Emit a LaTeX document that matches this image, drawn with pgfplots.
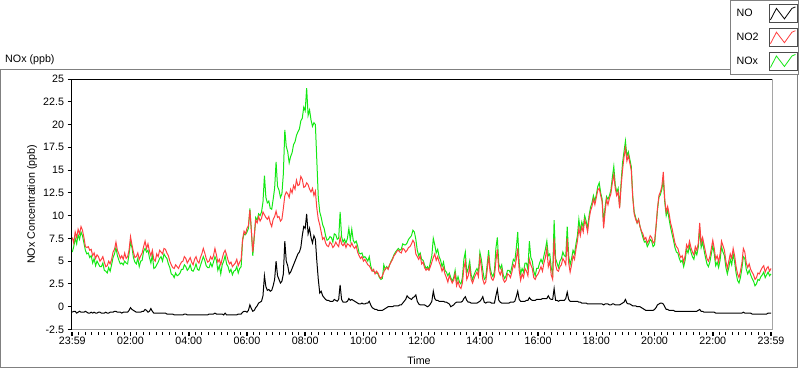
\documentclass[border=0pt]{standalone}
\usepackage{fontspec}
\setmainfont{Liberation Sans}
\usepackage{pgfplots}
\usepackage{pgfplotstable}
\pgfplotsset{compat=1.18}
\definecolor{nored}{RGB}{255,64,64}
\definecolor{nogreen}{RGB}{20,232,20}
\definecolor{framegray}{RGB}{128,128,128}
\definecolor{axgray}{RGB}{165,165,165}

\pgfplotstableread{
h NO NO2 NOx
0.0 -0.6 7.6 6.0
0.05 -0.5 7.0 6.6
0.1 -0.5 8.2 7.5
0.15 -0.7 7.6 6.9
0.2 -0.6 8.5 7.9
0.25 -0.5 8.0 7.4
0.3 -0.6 8.8 8.2
0.35 -0.6 8.4 7.8
0.4 -0.6 7.6 7.0
0.45 -0.5 6.6 6.2
0.5 -0.6 6.5 5.8
0.55 -0.7 6.6 5.9
0.6 -0.7 6.2 5.4
0.65 -0.6 6.3 5.6
0.7 -0.7 5.6 4.8
0.75 -0.6 5.9 5.3
0.8 -0.7 5.3 4.5
0.85 -0.7 5.7 5.0
0.9 -0.6 5.5 4.7
0.95 -0.6 5.0 4.4
1.0 -0.7 5.2 4.4
1.05 -0.7 5.5 4.8
1.1 -0.7 4.9 4.0
1.15 -0.6 4.4 3.9
1.2 -0.7 4.5 3.7
1.25 -0.7 5.0 4.3
1.3 -0.6 4.7 3.9
1.35 -0.6 5.2 4.6
1.4 -0.6 6.0 5.4
1.45 -0.5 6.3 5.8
1.5 -0.5 7.1 6.5
1.55 -0.6 6.2 5.6
1.6 -0.6 5.8 5.1
1.65 -0.6 5.3 4.7
1.7 -0.7 5.6 4.8
1.75 -0.6 5.2 4.6
1.8 -0.6 5.9 5.0
1.85 -0.6 5.3 4.8
1.9 -0.6 5.5 4.7
1.95 -0.4 6.2 5.8
2.0 -0.1 7.7 7.1
2.05 -0.3 6.8 6.5
2.1 -0.4 6.0 5.4
2.15 -0.5 5.4 4.9
2.2 -0.6 5.5 4.7
2.25 -0.6 5.9 5.3
2.3 -0.6 5.2 4.4
2.35 -0.6 5.6 5.0
2.4 -0.5 5.9 5.1
2.45 -0.5 6.6 6.1
2.5 -0.3 7.2 6.4
2.55 -0.4 6.4 6.0
2.6 -0.6 6.9 6.2
2.65 -0.5 6.1 5.4
2.7 -0.2 5.6 4.8
2.75 -0.5 6.2 5.7
2.8 -0.7 5.2 4.2
2.85 -0.7 5.0 4.3
2.9 -0.7 5.8 4.6
2.95 -0.7 5.5 4.9
3.0 -0.7 6.2 5.3
3.05 -0.7 6.0 5.5
3.1 -0.7 5.8 5.0
3.15 -0.7 6.4 5.8
3.2 -0.7 6.3 5.5
3.25 -0.8 5.9 5.3
3.3 -0.8 5.6 4.7
3.35 -0.8 5.0 4.3
3.4 -0.8 4.6 3.6
3.45 -0.8 4.3 3.5
3.5 -0.9 4.2 3.2
3.55 -0.9 4.6 3.7
3.6 -0.9 4.4 3.4
3.65 -0.9 4.2 3.5
3.7 -0.9 4.6 3.7
3.75 -0.9 4.9 4.1
3.8 -0.9 5.0 4.1
3.85 -0.8 5.5 4.6
3.9 -0.8 5.3 4.4
3.95 -0.9 4.8 4.0
4.0 -0.9 5.1 4.2
4.05 -0.9 5.4 4.6
4.1 -0.9 4.9 4.0
4.15 -0.9 4.6 3.9
4.2 -0.9 5.2 4.2
4.25 -0.9 5.5 4.7
4.3 -0.9 5.0 4.1
4.35 -0.9 4.8 4.0
4.4 -0.9 5.4 4.5
4.45 -0.9 5.8 5.0
4.5 -0.9 6.4 5.5
4.55 -0.9 5.9 5.1
4.6 -0.9 5.3 4.5
4.65 -0.9 4.9 4.3
4.7 -0.8 5.0 4.3
4.75 -0.8 5.5 4.8
4.8 -0.8 5.2 4.4
4.85 -0.8 5.6 4.9
4.9 -0.7 6.4 5.5
4.95 -0.8 5.7 5.1
5.0 -0.8 4.9 4.0
5.05 -0.8 5.2 4.5
5.1 -0.8 4.6 3.6
5.15 -0.8 5.3 4.6
5.2 -0.9 5.9 5.0
5.25 -0.7 6.2 5.6
5.3 -0.9 5.7 4.7
5.35 -0.9 5.1 4.4
5.4 -0.9 4.7 3.8
5.45 -0.9 4.9 4.1
5.5 -0.9 4.4 3.5
5.55 -0.9 4.6 3.9
5.6 -0.9 4.8 4.0
5.65 -0.9 5.2 4.4
5.7 -0.8 4.5 3.7
5.75 -0.8 4.9 4.2
5.8 -0.8 5.2 4.4
5.85 -0.6 7.4 7.3
5.9 -0.5 8.3 8.0
5.95 -0.5 8.0 7.9
6.0 -0.6 8.6 8.2
6.05 -0.4 8.9 8.6
6.1 0.2 10.6 10.8
6.15 -0.2 8.4 8.4
6.2 -0.5 6.0 5.6
6.25 -0.4 7.8 7.6
6.3 -0.1 9.5 9.8
6.35 0.1 9.2 9.5
6.4 0.4 9.9 10.2
6.45 0.5 9.4 10.0
6.5 0.6 9.7 10.4
6.55 1.2 10.4 11.5
6.6 3.4 10.1 14.4
6.65 2.2 9.8 12.0
6.7 1.8 9.6 11.4
6.75 1.9 9.9 11.6
6.8 1.7 9.2 10.8
6.85 1.8 8.8 10.7
6.9 2.3 9.6 11.8
6.95 3.0 9.9 13.0
7.0 5.0 10.5 15.9
7.05 3.4 9.8 13.2
7.1 3.0 9.9 12.8
7.15 2.6 9.4 12.0
7.2 2.8 9.6 12.4
7.25 3.6 10.8 14.6
7.3 7.2 12.2 19.4
7.35 5.0 12.6 17.6
7.4 4.5 12.4 17.0
7.45 3.6 12.0 15.8
7.5 3.8 12.9 16.5
7.55 4.2 12.5 16.9
7.6 4.6 13.3 17.8
7.65 5.0 12.9 18.1
7.7 5.4 13.9 18.8
7.75 5.8 13.3 19.2
7.8 6.0 13.4 19.5
7.85 6.5 14.3 20.4
7.9 7.8 14.0 20.7
7.95 8.8 13.1 21.9
8.0 8.6 13.2 21.5
8.05 10.2 13.6 24.0
8.1 8.0 13.4 21.0
8.15 8.6 12.9 21.6
8.2 7.6 12.6 20.5
8.25 7.0 13.0 19.8
8.3 7.8 12.2 20.2
8.35 7.4 12.7 20.0
8.4 5.0 10.8 16.0
8.45 3.0 9.6 12.0
8.5 1.5 9.0 10.4
8.55 1.7 8.2 9.8
8.6 1.2 7.4 9.0
8.65 1.0 7.6 8.6
8.7 0.8 7.0 7.8
8.75 0.7 6.7 7.3
8.8 0.7 6.6 7.4
8.85 0.6 7.1 7.7
8.9 0.6 6.9 7.6
8.95 0.6 6.5 7.1
9.0 0.8 6.7 8.0
9.05 0.7 7.1 7.9
9.1 0.6 6.8 7.4
9.15 0.8 6.6 7.5
9.2 2.4 7.6 10.4
9.25 0.8 6.9 7.7
9.3 0.5 6.7 7.1
9.35 0.5 7.0 7.4
9.4 0.5 6.5 7.0
9.45 0.6 6.9 7.5
9.5 0.9 6.8 8.6
9.55 0.7 6.6 7.3
9.6 0.8 7.0 8.5
9.65 0.7 6.6 7.3
9.7 0.6 6.4 7.0
9.75 0.5 6.7 7.2
9.8 0.4 6.0 6.7
9.85 0.3 5.6 5.9
9.9 0.3 5.3 5.8
9.95 0.4 5.5 5.9
10.0 0.3 5.0 5.4
10.05 0.3 5.2 5.5
10.1 0.4 4.9 5.3
10.15 0.4 4.6 5.0
10.2 0.6 4.5 5.5
10.25 0.2 4.2 4.5
10.3 -0.1 3.9 4.0
10.35 -0.2 4.1 3.9
10.4 -0.3 3.6 3.8
10.45 -0.3 3.9 3.7
10.5 -0.4 3.7 3.6
10.55 -0.4 3.3 3.2
10.6 -0.4 3.1 3.0
10.65 -0.4 3.4 3.1
10.7 -0.3 3.8 4.6
10.75 -0.2 4.2 4.1
10.8 -0.1 4.3 4.4
10.85 0.0 4.1 4.2
10.9 0.0 4.6 4.6
10.95 0.0 4.9 5.0
11.0 0.0 5.2 5.3
11.05 0.1 5.6 5.7
11.1 0.1 5.8 6.0
11.15 0.1 6.1 6.2
11.2 0.1 6.2 6.4
11.25 0.2 6.0 6.2
11.3 0.2 5.9 6.3
11.35 0.4 6.4 6.9
11.4 0.6 6.3 6.8
11.45 0.8 6.0 6.8
11.5 1.2 6.2 7.0
11.55 1.0 6.5 7.4
11.6 0.9 6.6 7.6
11.65 0.8 6.9 7.8
11.7 1.0 7.3 8.4
11.75 1.1 7.0 8.2
11.8 1.3 5.8 7.4
11.85 0.6 5.5 6.2
11.9 0.3 5.2 5.6
11.95 0.2 5.6 5.9
12.0 0.2 4.7 5.2
12.05 0.2 4.9 5.1
12.1 0.2 4.3 4.6
12.15 0.1 4.0 4.2
12.2 0.0 4.2 4.4
12.25 0.1 4.0 4.1
12.3 0.3 4.4 4.9
12.35 0.6 4.9 5.6
12.4 1.7 5.4 7.5
12.45 0.9 5.8 6.8
12.5 0.7 5.1 5.9
12.55 0.7 5.5 6.3
12.6 0.6 4.9 5.5
12.65 0.6 4.5 5.1
12.7 0.6 3.9 4.4
12.75 0.6 4.3 4.9
12.8 0.5 3.6 4.0
12.85 0.5 3.2 3.8
12.9 0.4 2.7 3.4
12.95 0.3 3.4 3.7
13.0 0.0 3.0 3.2
13.05 0.1 2.6 2.8
13.1 0.2 2.9 3.2
13.15 0.4 3.6 4.0
13.2 0.5 2.3 2.8
13.25 0.5 2.8 3.3
13.3 0.5 2.2 2.7
13.35 0.5 2.0 2.5
13.4 0.6 2.6 3.2
13.45 0.9 4.2 5.2
13.5 1.1 5.0 6.0
13.55 0.7 3.0 3.7
13.6 0.5 3.4 4.2
13.65 0.5 4.4 5.0
13.7 0.4 3.0 3.5
13.75 0.4 2.6 3.0
13.8 0.4 3.1 3.5
13.85 0.4 3.5 3.9
13.9 0.4 3.8 4.2
13.95 0.5 3.3 3.8
14.0 0.6 5.4 6.0
14.05 0.8 4.4 5.2
14.1 1.1 3.0 4.0
14.15 0.5 2.5 3.0
14.2 0.4 2.7 3.2
14.25 0.5 4.0 4.6
14.3 0.5 5.6 6.2
14.35 0.5 3.8 4.3
14.4 0.4 3.1 3.6
14.45 0.4 2.9 3.3
14.5 0.4 3.3 3.9
14.55 1.2 5.0 6.4
14.6 1.9 6.3 7.6
14.65 0.7 3.9 4.7
14.7 0.5 3.5 4.2
14.75 0.4 4.1 4.6
14.8 0.4 3.0 3.5
14.85 0.4 2.7 3.1
14.9 0.4 2.9 3.4
14.95 0.4 3.6 4.0
15.0 0.4 3.5 4.0
15.05 0.5 3.2 3.7
15.1 0.5 3.8 4.4
15.15 0.5 4.6 5.2
15.2 0.6 4.3 5.0
15.25 1.1 5.2 6.4
15.3 1.7 6.4 8.2
15.35 0.8 4.0 4.8
15.4 0.6 2.9 3.6
15.45 0.6 3.6 4.2
15.5 0.6 3.2 3.8
15.55 0.6 4.2 4.8
15.6 0.7 3.9 4.8
15.65 0.7 3.4 4.1
15.7 1.0 5.2 7.2
15.75 0.8 4.6 5.4
15.8 0.7 4.2 5.0
15.85 0.7 3.2 3.9
15.9 0.7 3.0 3.4
15.95 0.8 3.4 4.2
16.0 0.8 3.6 4.2
16.05 0.8 4.0 4.8
16.1 0.8 4.4 5.2
16.15 0.9 3.9 4.8
16.2 0.9 4.8 5.6
16.25 0.9 5.4 6.3
16.3 0.9 6.4 7.2
16.35 1.2 4.4 5.6
16.4 0.9 5.0 5.8
16.45 0.8 3.5 4.3
16.5 0.8 3.0 3.6
16.55 2.0 7.5 9.5
16.6 0.7 4.6 5.3
16.65 0.7 4.0 4.8
16.7 0.6 3.9 4.3
16.75 0.7 4.4 5.0
16.8 0.7 4.6 5.3
16.85 0.7 5.3 6.0
16.9 0.7 5.0 5.6
16.95 0.9 4.6 5.5
17.0 1.6 7.5 8.8
17.05 0.8 4.8 5.6
17.1 0.6 3.8 4.6
17.15 0.6 4.6 5.3
17.2 0.6 5.6 6.2
17.25 0.6 5.2 5.8
17.3 0.6 6.3 6.9
17.35 0.6 7.2 7.8
17.4 0.5 8.6 9.6
17.45 0.5 7.8 8.3
17.5 0.4 8.8 9.3
17.55 0.4 8.2 8.7
17.6 0.4 9.5 10.0
17.65 0.4 9.0 9.4
17.7 0.3 8.2 8.6
17.75 0.3 9.6 10.0
17.8 0.3 10.5 10.9
17.85 0.3 11.0 11.4
17.9 0.3 11.8 12.2
17.95 0.3 11.2 11.6
18.0 0.3 12.0 12.3
18.05 0.3 12.8 13.2
18.1 0.3 13.0 13.6
18.15 0.3 12.2 12.5
18.2 0.3 11.5 11.8
18.25 0.2 8.6 9.2
18.3 0.3 10.4 10.9
18.35 0.3 11.8 12.1
18.4 0.3 11.2 11.8
18.45 0.2 11.9 12.2
18.5 0.2 12.4 12.8
18.55 0.3 13.6 14.2
18.6 0.3 14.5 15.4
18.65 0.2 13.0 13.4
18.7 0.2 12.2 12.6
18.75 0.2 12.6 13.0
18.8 0.2 10.8 11.0
18.85 0.3 13.2 13.6
18.9 0.4 15.0 15.8
18.95 0.5 16.4 17.0
19.0 0.8 17.4 18.2
19.05 0.4 16.0 16.5
19.1 0.3 16.6 17.0
19.15 0.3 15.8 16.2
19.2 0.2 15.0 15.4
19.25 0.1 12.0 12.2
19.3 0.1 10.2 10.4
19.35 0.1 9.6 9.8
19.4 0.0 9.2 9.2
19.45 0.0 9.6 9.6
19.5 0.0 8.8 8.8
19.55 -0.1 8.3 8.2
19.6 -0.2 8.0 7.6
19.65 -0.3 7.4 7.1
19.7 -0.4 7.6 7.2
19.75 -0.4 7.0 6.6
19.8 -0.4 7.3 6.9
19.85 -0.4 7.8 7.4
19.9 -0.4 7.6 7.2
19.95 -0.4 7.0 6.6
20.0 -0.3 7.2 6.8
20.05 -0.1 8.8 8.7
20.1 0.2 10.8 10.6
20.15 0.3 12.2 12.0
20.2 0.4 12.6 12.3
20.25 0.4 13.2 12.9
20.3 0.3 14.8 13.9
20.35 0.0 11.8 11.5
20.4 -0.3 10.4 10.0
20.45 -0.3 11.0 10.6
20.5 -0.4 10.2 9.6
20.55 -0.4 9.2 8.7
20.6 -0.4 8.6 8.0
20.65 -0.4 7.8 7.3
20.7 -0.5 7.0 6.5
20.75 -0.5 6.6 6.0
20.8 -0.5 6.4 5.9
20.85 -0.5 5.8 5.3
20.9 -0.5 5.4 4.9
20.95 -0.5 5.6 5.1
21.0 -0.5 4.9 4.4
21.05 -0.5 5.6 5.1
21.1 -0.5 6.8 6.3
21.15 -0.5 6.4 5.9
21.2 -0.5 7.2 6.7
21.25 -0.5 6.5 6.0
21.3 -0.5 6.0 5.5
21.35 -0.5 5.7 5.2
21.4 -0.5 6.6 6.1
21.45 -0.5 6.2 5.7
21.5 -0.4 6.9 6.5
21.55 -0.3 9.2 8.6
21.6 -0.5 7.0 6.5
21.65 -0.5 7.6 7.1
21.7 -0.6 6.8 6.2
21.75 -0.6 6.0 5.4
21.8 -0.6 5.3 4.7
21.85 -0.6 5.0 4.4
21.9 -0.6 5.5 4.9
21.95 -0.6 6.4 5.8
22.0 -0.6 7.3 6.7
22.05 -0.6 6.4 5.8
22.1 -0.7 5.2 4.5
22.15 -0.7 5.6 4.9
22.2 -0.7 4.9 4.3
22.25 -0.7 5.8 5.1
22.3 -0.7 7.2 6.6
22.35 -0.7 6.7 6.0
22.4 -0.7 6.2 5.6
22.45 -0.7 5.0 4.3
22.5 -0.7 4.2 3.6
22.55 -0.7 5.0 4.3
22.6 -0.7 5.8 5.2
22.65 -0.7 5.3 4.6
22.7 -0.7 6.4 5.8
22.75 -0.7 5.6 4.9
22.8 -0.7 4.4 3.7
22.85 -0.7 3.6 2.9
22.9 -0.7 3.2 2.6
22.95 -0.7 3.9 3.2
23.0 -0.7 4.8 4.2
23.05 -0.6 6.4 5.5
23.1 -0.7 6.0 5.3
23.15 -0.7 4.8 4.1
23.2 -0.7 4.3 3.6
23.25 -0.7 4.7 4.0
23.3 -0.7 4.1 3.5
23.35 -0.8 3.8 3.1
23.4 -0.8 3.5 2.8
23.45 -0.8 3.0 2.3
23.5 -0.8 3.2 2.5
23.55 -0.8 3.7 3.0
23.6 -0.8 3.6 2.9
23.65 -0.8 4.0 3.3
23.7 -0.8 4.3 3.5
23.75 -0.8 4.5 3.8
23.8 -0.8 3.8 3.2
23.85 -0.8 4.2 3.5
23.9 -0.7 4.4 3.8
23.95 -0.7 3.9 3.4
24.0 -0.7 4.2 3.6
}\datatable

\begin{document}
\begin{tikzpicture}[x=1pt,y=1pt,font=\fontsize{10.7}{12.8}\selectfont]
\useasboundingbox (0,0) rectangle (800,-369);
\draw[framegray, line width=1pt] (0.5,-69.5) rectangle (797.5,-367.5);
\node[anchor=west, inner sep=0pt] at (5,-59.5) {NOx (ppb)};
\begin{axis}[
  at={(71.5pt,-329.5pt)}, anchor=south west,
  scale only axis, width=700.5pt, height=250.5pt,
  xmin=-0.027, xmax=24.034, ymin=-2.5, ymax=25,
  clip mode=individual,
  axis line style={draw=none},
  tick pos=left, tick align=outside,
  xtick={0,2,...,24},
  xticklabels={23:59,02:00,04:00,06:00,08:00,10:00,12:00,14:00,16:00,18:00,20:00,22:00,23:59},
  minor x tick num=8,
  ytick={-2.5,0,2.5,5,7.5,10,12.5,15,17.5,20,22.5,25},
  yticklabels={-2.5,0,2.5,5,7.5,10,12.5,15,17.5,20,22.5,25},
  major tick length=4pt, minor tick length=2.5pt,
  every tick/.style={black, line width=1pt},
  every major x tick/.append style={yshift=-2.5pt, line width=1.6pt},
  every minor x tick/.append style={yshift=-2.5pt},
  tick label style={font=\fontsize{10.7}{12.8}\selectfont},
  xlabel={Time},
  xlabel style={at={(axis description cs:0.496,-0.1257)}, anchor=center, font=\fontsize{10.7}{12.8}\selectfont},
  ylabel={NOx Concentration (ppb)},
  ylabel style={at={(axis description cs:-0.0564,0.5)}, anchor=center, font=\fontsize{10.7}{12.8}\selectfont},
  legend plot pos=right,
  reverse legend,
  legend style={at={(axis description cs:0.9401,1.3154)}, anchor=north west,
    draw=framegray, line width=1pt, fill=white, inner xsep=0pt, inner ysep=4pt,
    row sep=5pt, nodes={inner sep=0pt}, font=\fontsize{10.7}{12.8}\selectfont},
  legend image code/.code={
    \draw[#1, line width=0.8pt] (1.5pt,-6pt) -- (7.5pt,5.5pt) -- (15.5pt,-5pt) -- (23pt,5.5pt) -- (26.5pt,7pt);
    \draw[black!70, line width=0.8pt, solid] (0pt,-9pt) rectangle (28pt,9pt);
    \path (29pt,0pt);
  },
]
\addplot[nogreen, line width=1pt] table[x=h, y=NOx] {\datatable};
\addlegendentry{\makebox[38pt][l]{\hspace{6pt}NOx}}
\addplot[nored, line width=1pt] table[x=h, y=NO2] {\datatable};
\addlegendentry{\makebox[38pt][l]{\hspace{6pt}NO2}}
\addplot[black, line width=1pt] table[x=h, y=NO] {\datatable};
\addlegendentry{\makebox[38pt][l]{\hspace{6pt}NO}}
\draw[black, line width=1pt] (rel axis cs:0,0) -- (rel axis cs:0,1) -- (rel axis cs:1,1);
\draw[axgray, line width=1pt] (rel axis cs:1,1) -- (rel axis cs:1,0) -- (rel axis cs:0,0);
\end{axis}
\end{tikzpicture}
\end{document}
